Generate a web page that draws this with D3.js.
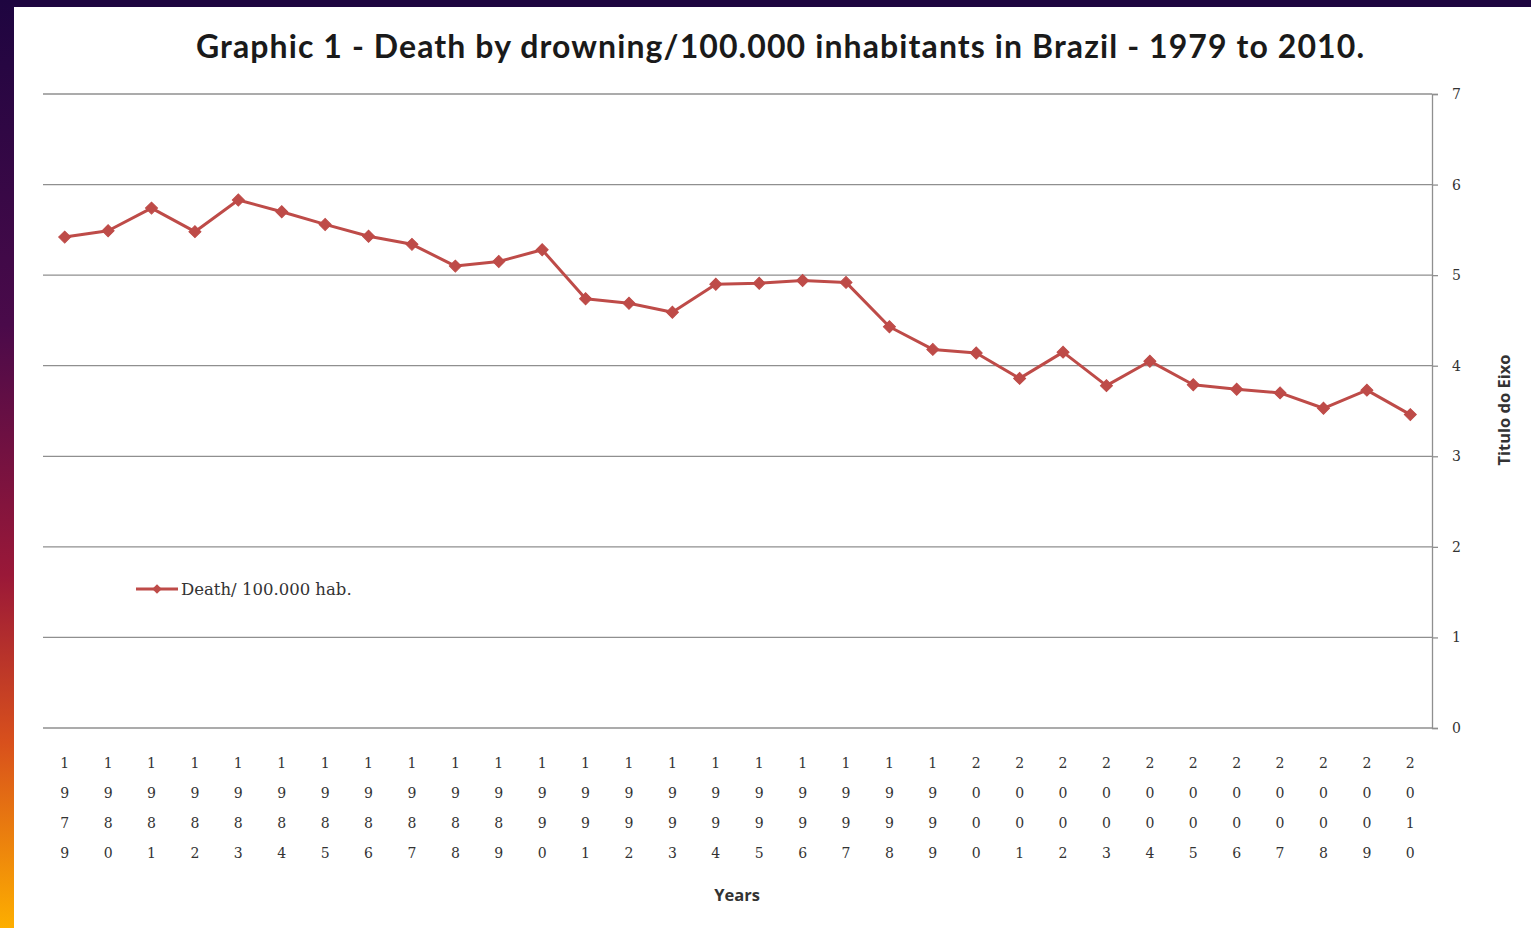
<!DOCTYPE html>
<html>
<head>
<meta charset="utf-8">
<script src="https://cdn.jsdelivr.net/npm/d3@7"></script>
<style>
  html, body { margin: 0; padding: 0; background: #fff; }
  svg { display: block; }
</style>
</head>
<body>
<svg id="chart" width="1531" height="928"></svg>
<script>
// Drowning deaths per 100,000 inhabitants, Brazil 1979–2010
const years = [
  "1979","1980","1981","1982","1983","1984","1985","1986","1987","1988",
  "1989","1990","1991","1992","1993","1994","1995","1996","1997","1998",
  "1999","2000","2001","2002","2003","2004","2005","2006","2007","2008",
  "2009","2010"
];
const deathRate = [
  5.42, 5.49, 5.74, 5.48, 5.83, 5.70, 5.56, 5.43, 5.34, 5.10,
  5.15, 5.28, 4.74, 4.69, 4.59, 4.90, 4.91, 4.94, 4.92, 4.43,
  4.18, 4.14, 3.86, 4.15, 3.78, 4.05, 3.79, 3.74, 3.70, 3.53,
  3.73, 3.46
];
const yTicks = [0, 1, 2, 3, 4, 5, 6, 7];
const seriesName = "Death/ 100.000 hab.";
const titleText = "Graphic 1 - Death by drowning/100.000 inhabitants in Brazil - 1979 to 2010.";
const xTitle = "Years";
const yTitle = "Titulo do Eixo";

const svg = d3.select("#chart");
const W = 1531, H = 928;

// Slide frame: gradient strip on the left, dark band on top
const defs = svg.append("defs");
const grad = defs.append("linearGradient")
  .attr("id", "frameGrad").attr("x1", 0).attr("y1", 0).attr("x2", 0).attr("y2", 1);
grad.append("stop").attr("offset", "0%").attr("stop-color", "#1e0540");
grad.append("stop").attr("offset", "35%").attr("stop-color", "#4a0a4a");
grad.append("stop").attr("offset", "62%").attr("stop-color", "#9a1838");
grad.append("stop").attr("offset", "80%").attr("stop-color", "#d8501c");
grad.append("stop").attr("offset", "100%").attr("stop-color", "#fdae00");

svg.append("rect").attr("x", 0).attr("y", 0).attr("width", W).attr("height", H).attr("fill", "#ffffff");
svg.append("rect").attr("x", 0).attr("y", 0).attr("width", W).attr("height", 7).attr("fill", "#1e0540");
svg.append("rect").attr("x", 0).attr("y", 0).attr("width", 14).attr("height", H).attr("fill", "url(#frameGrad)");

const plot = { left: 43, right: 1432, top: 94, bottom: 728 };

const x = d3.scaleBand().domain(years).range([plot.left, plot.right]).padding(0);
const y = d3.scaleLinear().domain([0, 7]).range([plot.bottom, plot.top]);

// Title
svg.append("text")
  .attr("x", 780).attr("y", 58)
  .attr("text-anchor", "middle")
  .attr("font-family", "Lato, 'Open Sans', sans-serif")
  .attr("font-weight", "bold")
  .attr("font-size", 32)
  .attr("textLength", 1168)
  .attr("lengthAdjust", "spacing")
  .attr("fill", "#1a1a1a")
  .text(titleText);

// Horizontal gridlines
svg.append("g")
  .selectAll("line")
  .data(yTicks)
  .join("line")
  .attr("x1", plot.left).attr("x2", plot.right)
  .attr("y1", d => y(d)).attr("y2", d => y(d))
  .attr("stroke", "#8f8f8f").attr("stroke-width", 1.3);

// Right value axis
const yAxis = d3.axisRight(y).tickValues(yTicks).tickSize(6).tickPadding(14).tickFormat(d3.format("d"));
const gy = svg.append("g").attr("transform", `translate(${plot.right},0)`).call(yAxis);
gy.select(".domain").attr("stroke", "#8f8f8f").attr("stroke-width", 1.3);
gy.selectAll(".tick line").attr("stroke", "#8f8f8f").attr("stroke-width", 1.3);
gy.selectAll(".tick text")
  .attr("font-family", "'DejaVu Serif', serif")
  .attr("font-size", 14)
  .attr("fill", "#333");

// Category labels, digits stacked vertically
const xLab = svg.append("g");
years.forEach(yr => {
  const t = xLab.append("text")
    .attr("x", x(yr) + x.bandwidth() / 2)
    .attr("text-anchor", "middle")
    .attr("font-family", "'DejaVu Serif', serif")
    .attr("font-size", 14)
    .attr("fill", "#333");
  yr.split("").forEach((ch, i) => {
    t.append("tspan")
      .attr("x", x(yr) + x.bandwidth() / 2)
      .attr("y", 768 + i * 30)
      .text(ch);
  });
});

// Axis titles
svg.append("text")
  .attr("x", 737).attr("y", 901)
  .attr("text-anchor", "middle")
  .attr("font-family", "'Open Sans', sans-serif")
  .attr("font-weight", "bold")
  .attr("font-size", 16.5)
  .attr("fill", "#333")
  .text(xTitle);

svg.append("text")
  .attr("transform", "translate(1510,410) rotate(-90)")
  .attr("text-anchor", "middle")
  .attr("font-family", "'Open Sans', sans-serif")
  .attr("font-weight", "bold")
  .attr("font-size", 16.5)
  .attr("fill", "#333")
  .text(yTitle);

// Series line
const lineColor = "#be4b48";
const cx = d => x(d) + x.bandwidth() / 2;
const line = d3.line()
  .x((d, i) => cx(years[i]))
  .y(d => y(d));

svg.append("path")
  .datum(deathRate)
  .attr("d", line)
  .attr("fill", "none")
  .attr("stroke", lineColor)
  .attr("stroke-width", 3)
  .attr("stroke-linejoin", "round");

// Diamond markers (squares turned 45°)
const marker = d3.symbol().type(d3.symbolSquare).size(72);
svg.append("g")
  .selectAll("path")
  .data(deathRate)
  .join("path")
  .attr("transform", (d, i) => `translate(${cx(years[i])},${y(d)}) rotate(45)`)
  .attr("d", marker)
  .attr("fill", lineColor)
  .attr("stroke", lineColor)
  .attr("stroke-width", 1);

// Legend
const lg = svg.append("g").attr("transform", "translate(136,589)");
lg.append("line").attr("x1", 0).attr("x2", 42).attr("y1", 0).attr("y2", 0)
  .attr("stroke", lineColor).attr("stroke-width", 3);
lg.append("path").attr("transform", "translate(21,0) rotate(45)")
  .attr("d", d3.symbol().type(d3.symbolSquare).size(45))
  .attr("fill", lineColor);
lg.append("text")
  .attr("x", 45).attr("y", 5.5)
  .attr("font-family", "'DejaVu Serif', serif")
  .attr("font-size", 16.5)
  .attr("fill", "#333")
  .text(seriesName);
</script>
</body>
</html>
